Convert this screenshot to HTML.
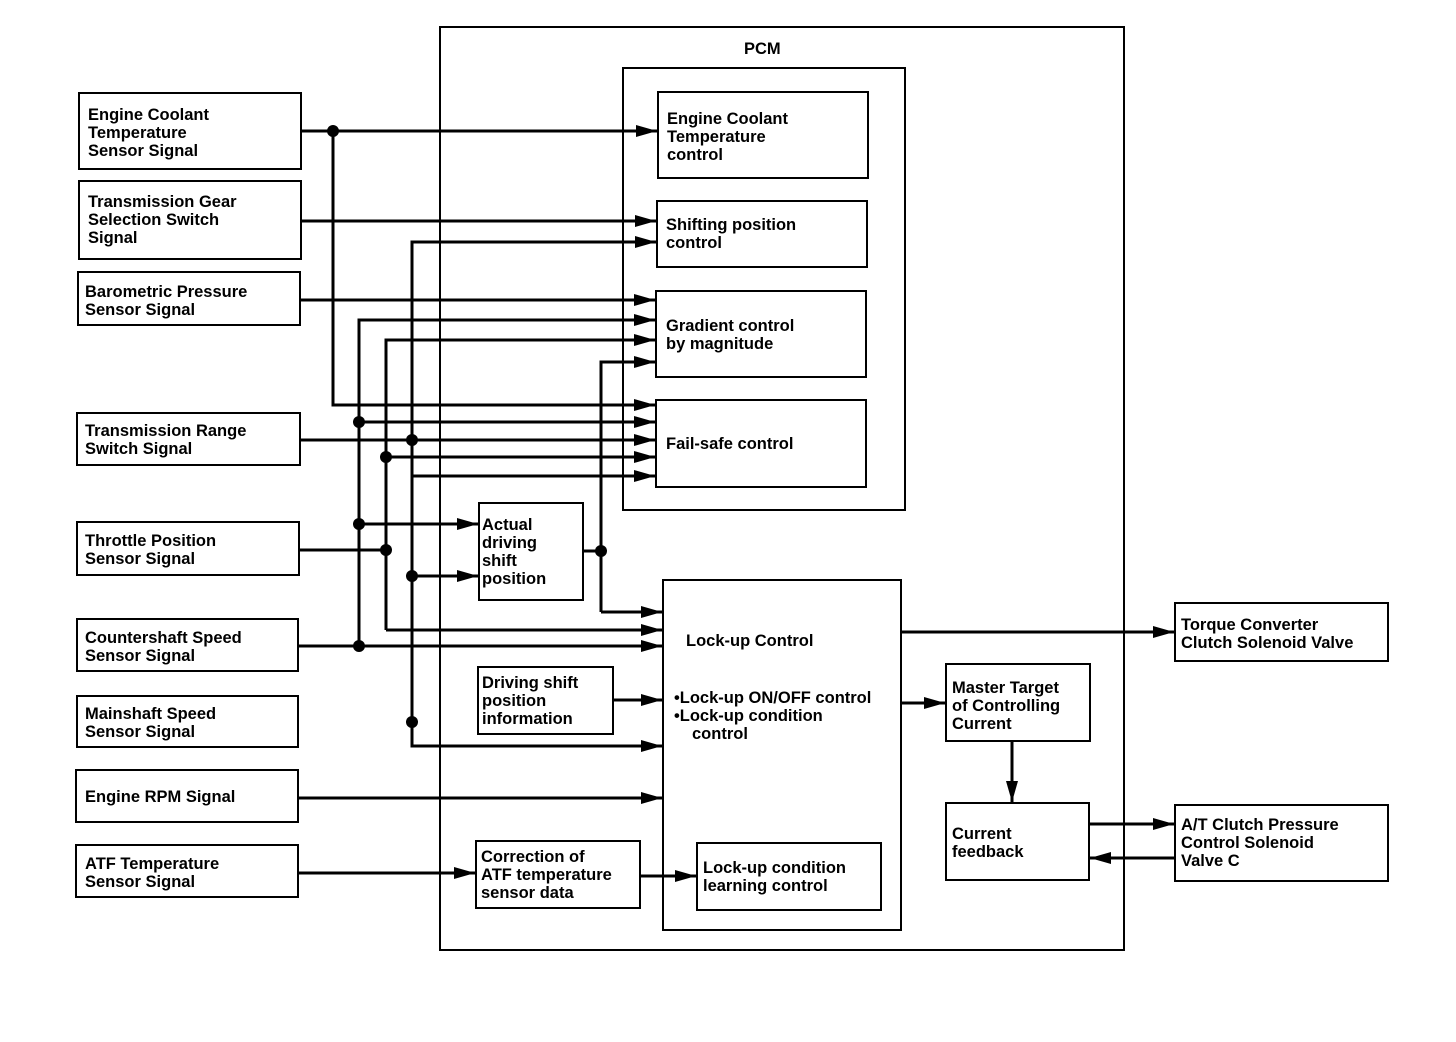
<!DOCTYPE html>
<html><head><meta charset="utf-8"><style>
html,body{margin:0;padding:0;background:#fff}
svg{display:block}
text{font-family:"Liberation Sans",sans-serif;font-weight:bold;font-size:16.5px;fill:#000}
.b{fill:none;stroke:#000;stroke-width:2}
.w{fill:none;stroke:#000;stroke-width:3}
</style></head><body>
<svg width="1456" height="1042" viewBox="0 0 1456 1042" xmlns="http://www.w3.org/2000/svg">
<defs><marker id="a" markerUnits="userSpaceOnUse" markerWidth="22" markerHeight="14" refX="21" refY="7" orient="auto"><path d="M0,1 L21,7 L0,13 Z" fill="#000"/></marker></defs>
<!-- PCM -->
<rect class="b" x="440" y="27" width="684" height="923"/>
<text x="744" y="54">PCM</text>
<rect class="b" x="623" y="68" width="282" height="442"/>
<!-- inner boxes -->
<rect class="b" x="658" y="92" width="210" height="86"/>
<text x="667" y="124">Engine Coolant</text><text x="667" y="142">Temperature</text><text x="667" y="160">control</text>
<rect class="b" x="657" y="201" width="210" height="66"/>
<text x="666" y="230">Shifting position</text><text x="666" y="248">control</text>
<rect class="b" x="656" y="291" width="210" height="86"/>
<text x="666" y="331">Gradient control</text><text x="666" y="349">by magnitude</text>
<rect class="b" x="656" y="400" width="210" height="87"/>
<text x="666" y="449">Fail-safe control</text>
<rect class="b" x="479" y="503" width="104" height="97"/>
<text x="482" y="530">Actual</text><text x="482" y="548">driving</text><text x="482" y="566">shift</text><text x="482" y="584">position</text>
<rect class="b" x="663" y="580" width="238" height="350"/>
<text x="686" y="646">Lock-up Control</text>
<text x="674" y="703">•Lock-up ON/OFF control</text><text x="674" y="721">•Lock-up condition</text><text x="692" y="739">control</text>
<rect class="b" x="478" y="667" width="135" height="67"/>
<text x="482" y="688">Driving shift</text><text x="482" y="706">position</text><text x="482" y="724">information</text>
<rect class="b" x="476" y="841" width="164" height="67"/>
<text x="481" y="862">Correction of</text><text x="481" y="880">ATF temperature</text><text x="481" y="898">sensor data</text>
<rect class="b" x="697" y="843" width="184" height="67"/>
<text x="703" y="873">Lock-up condition</text><text x="703" y="891">learning control</text>
<rect class="b" x="946" y="664" width="144" height="77"/>
<text x="952" y="693">Master Target</text><text x="952" y="711">of Controlling</text><text x="952" y="729">Current</text>
<rect class="b" x="946" y="803" width="143" height="77"/>
<text x="952" y="839">Current</text><text x="952" y="857">feedback</text>
<rect class="b" x="1175" y="603" width="213" height="58"/>
<text x="1181" y="630">Torque Converter</text><text x="1181" y="648">Clutch Solenoid Valve</text>
<rect class="b" x="1175" y="805" width="213" height="76"/>
<text x="1181" y="830">A/T Clutch Pressure</text><text x="1181" y="848">Control Solenoid</text><text x="1181" y="866">Valve C</text>
<!-- left boxes -->
<rect class="b" x="79" y="93" width="222" height="76"/>
<text x="88" y="120">Engine Coolant</text><text x="88" y="138">Temperature</text><text x="88" y="156">Sensor Signal</text>
<rect class="b" x="79" y="181" width="222" height="78"/>
<text x="88" y="207">Transmission Gear</text><text x="88" y="225">Selection Switch</text><text x="88" y="243">Signal</text>
<rect class="b" x="78" y="272" width="222" height="53"/>
<text x="85" y="297">Barometric Pressure</text><text x="85" y="315">Sensor Signal</text>
<rect class="b" x="77" y="413" width="223" height="52"/>
<text x="85" y="436">Transmission Range</text><text x="85" y="454">Switch Signal</text>
<rect class="b" x="77" y="522" width="222" height="53"/>
<text x="85" y="546">Throttle Position</text><text x="85" y="564">Sensor Signal</text>
<rect class="b" x="77" y="619" width="221" height="52"/>
<text x="85" y="643">Countershaft Speed</text><text x="85" y="661">Sensor Signal</text>
<rect class="b" x="77" y="696" width="221" height="51"/>
<text x="85" y="719">Mainshaft Speed</text><text x="85" y="737">Sensor Signal</text>
<rect class="b" x="76" y="770" width="222" height="52"/>
<text x="85" y="802">Engine RPM Signal</text>
<rect class="b" x="76" y="845" width="222" height="52"/>
<text x="85" y="869">ATF Temperature</text><text x="85" y="887">Sensor Signal</text>
<!-- wires -->
<g class="w" marker-end="url(#a)">
<path d="M301,131 H657"/>
<path d="M301,221 H656"/>
<path d="M412,722 V242 H656"/>
<path d="M300,300 H655"/>
<path d="M359,646 V320 H655"/>
<path d="M386,630 V340 H655"/>
<path d="M601,612 V362 H655"/>
<path d="M333,131 V405 H655"/>
<path d="M359,422 H655"/>
<path d="M300,440 H655"/>
<path d="M386,457 H655"/>
<path d="M412,476 H655"/>
<path d="M359,524 H478"/>
<path d="M412,576 H478"/>
<path d="M601,612 H662"/>
<path d="M386,630 H662"/>
<path d="M298,646 H662"/>
<path d="M613,700 H662"/>
<path d="M412,722 V746 H662"/>
<path d="M298,798 H662"/>
<path d="M298,873 H475"/>
<path d="M640,876 H696"/>
<path d="M901,632 H1174"/>
<path d="M901,703 H945"/>
<path d="M1012,741 V802"/>
<path d="M1089,824 H1174"/>
<path d="M1175,858 H1090"/>
</g>
<path class="w" d="M299,550 H386 M583,551 H601"/>
<g fill="#000">
<circle cx="333" cy="131" r="6"/><circle cx="359" cy="422" r="6"/><circle cx="412" cy="440" r="6"/>
<circle cx="386" cy="457" r="6"/><circle cx="359" cy="524" r="6"/><circle cx="386" cy="550" r="6"/>
<circle cx="412" cy="576" r="6"/><circle cx="601" cy="551" r="6"/><circle cx="359" cy="646" r="6"/>
<circle cx="412" cy="722" r="6"/>
</g>
</svg>
</body></html>
